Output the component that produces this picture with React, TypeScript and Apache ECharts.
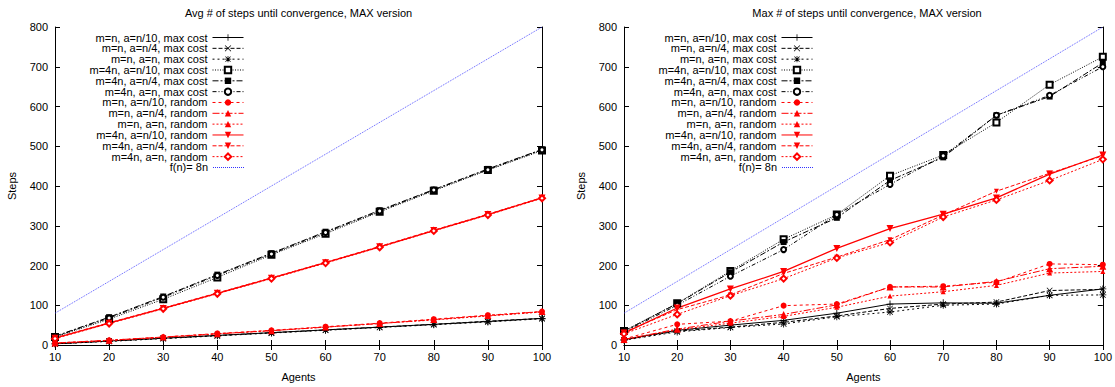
import React, { useEffect, useRef } from "react";
import * as echarts from "echarts";

const agents = [10, 20, 30, 40, 50, 60, 70, 80, 90, 100];
const yTicks = { min: 0, max: 800, interval: 100 };

const seriesNames = [
  "m=n, a=n/10, max cost",
  "m=n, a=n/4, max cost",
  "m=n, a=n, max cost",
  "m=4n, a=n/10, max cost",
  "m=4n, a=n/4, max cost",
  "m=4n, a=n, max cost",
  "m=n, a=n/10, random",
  "m=n, a=n/4, random",
  "m=n, a=n, random",
  "m=4n, a=n/10, random",
  "m=4n, a=n/4, random",
  "m=4n, a=n, random",
  "f(n)= 8n",
];

// Avg chart
const avgMnN10Max = [3, 10, 17, 24, 31, 38, 45, 52, 59, 67];
const avgMnN4Max = [3, 10, 17, 24, 31, 38, 45, 52, 60, 67];
const avgMnNMax = [3, 9, 16, 23, 30, 37, 44, 51, 58, 66];
const avgM4nN10Max = [20, 65, 115, 170, 227, 280, 335, 388, 440, 489];
const avgM4nN4Max = [22, 70, 122, 177, 231, 285, 339, 391, 443, 492];
const avgM4nNMax = [21, 68, 120, 175, 229, 283, 337, 390, 441, 491];
const avgMnN10Rnd = [5, 12, 20, 29, 37, 46, 55, 65, 75, 84];
const avgMnN4Rnd = [5, 12, 20, 28, 36, 45, 54, 64, 74, 84];
const avgMnNRnd = [4, 11, 19, 28, 36, 45, 54, 63, 73, 83];
const avgM4nN10Rnd = [17, 55, 92, 130, 168, 207, 247, 288, 328, 370];
const avgM4nN4Rnd = [18, 56, 93, 131, 169, 208, 248, 289, 329, 371];
const avgM4nNRnd = [16, 54, 91, 129, 167, 206, 246, 287, 327, 369];

// Max chart
const maxMnN10Max = [14, 37, 50, 62, 80, 103, 106, 105, 125, 141];
const maxMnN4Max = [13, 35, 45, 57, 73, 92, 103, 108, 137, 140];
const maxMnNMax = [12, 33, 44, 53, 71, 83, 100, 103, 125, 126];
const maxM4nN10Max = [35, 105, 186, 266, 328, 426, 478, 560, 655, 725];
const maxM4nN4Max = [35, 104, 183, 259, 320, 414, 472, 578, 625, 710];
const maxM4nNMax = [33, 100, 173, 240, 328, 404, 476, 578, 628, 700];
const maxMnN10Rnd = [15, 52, 60, 99, 103, 146, 148, 158, 204, 202];
const maxMnN4Rnd = [14, 40, 60, 77, 101, 146, 146, 160, 192, 198];
const maxMnNRnd = [13, 38, 55, 72, 95, 123, 134, 150, 181, 185];
const maxM4nN10Rnd = [30, 93, 141, 185, 243, 293, 329, 370, 430, 478];
const maxM4nN4Rnd = [32, 89, 126, 180, 221, 265, 327, 387, 432, 476];
const maxM4nNRnd = [28, 77, 124, 167, 219, 258, 322, 365, 414, 467];

// f(n) = 8n reference line endpoints
const fAgents = [10, 100];
const fValues = [80, 800];

const avgSeries = [
  avgMnN10Max, avgMnN4Max, avgMnNMax, avgM4nN10Max, avgM4nN4Max, avgM4nNMax,
  avgMnN10Rnd, avgMnN4Rnd, avgMnNRnd, avgM4nN10Rnd, avgM4nN4Rnd, avgM4nNRnd,
];
const maxSeries = [
  maxMnN10Max, maxMnN4Max, maxMnNMax, maxM4nN10Max, maxM4nN4Max, maxM4nNMax,
  maxMnN10Rnd, maxMnN4Rnd, maxMnNRnd, maxM4nN10Rnd, maxM4nN4Rnd, maxM4nNRnd,
];

const titles = [
  "Avg # of steps until convergence, MAX version",
  "Max # of steps until convergence, MAX version",
];

const PLUS = "path://M4.4,0h1.2v4.4h4.4v1.2h-4.4v4.4h-1.2v-4.4h-4.4v-1.2h4.4z";
const CROSS = "path://M0.8,0L5,4.2L9.2,0L10,0.8L5.8,5L10,9.2L9.2,10L5,5.8L0.8,10L0,9.2L4.2,5L0,0.8Z";
const STAR =
  "path://M4.4,0h1.2v4.4h4.4v1.2h-4.4v4.4h-1.2v-4.4h-4.4v-1.2h4.4zM1.4,0.6L5,4.2L8.6,0.6L9.4,1.4L5.8,5L9.4,8.6L8.6,9.4L5,5.8L1.4,9.4L0.6,8.6L4.2,5L0.6,1.4Z";
const DOWN = "path://M0,0L10,0L5,9Z";

// dotted legend sample for f(n): 1x1 dots every 2px over 31px
let dots = "path://";
for (let k = 0; k < 31; k += 2) dots += `M${k},0h1v1h-1z`;
const DOTTED_ICON = dots;

const BLACK = "#000000";
const RED = "#ff0000";
const BLUE = "#3333ff";

type Sty = {
  color: string;
  dash: any;
  symbol: string;
  size: number;
  open?: boolean;
  width?: number;
};

const styles: Sty[] = [
  { color: BLACK, dash: "solid", symbol: PLUS, size: 7 },
  { color: BLACK, dash: [4, 2], symbol: CROSS, size: 6 },
  { color: BLACK, dash: [2, 3], symbol: STAR, size: 7 },
  { color: BLACK, dash: [1, 1.5], symbol: "emptyRect", size: 6, open: true },
  { color: BLACK, dash: [6, 2, 2, 2], symbol: "rect", size: 6 },
  { color: BLACK, dash: [4, 2, 1, 2, 1, 2], symbol: "emptyCircle", size: 5, open: true },
  { color: RED, dash: [3, 3], symbol: "circle", size: 6 },
  { color: RED, dash: [7, 2, 2, 2], symbol: "triangle", size: 7 },
  { color: RED, dash: [2, 2], symbol: "triangle", size: 5 },
  { color: RED, dash: "solid", symbol: DOWN, size: 7, width: 1.3 },
  { color: RED, dash: [4, 2], symbol: DOWN, size: 5 },
  { color: RED, dash: [2, 2], symbol: "emptyDiamond", size: 6, open: true },
];

const FONT = "Liberation Sans, Arial, Helvetica, sans-serif";

const grids = [
  { left: 55, top: 27, width: 487, height: 324 },
  { left: 624, top: 27, width: 486, height: 324 },
];
const legendIconRight = [244, 813];
const legendRowTop = 32;
const legendRowStep = 10.83;

function buildOption() {
  const xAxis: any[] = [];
  const yAxis: any[] = [];
  const series: any[] = [];
  const legend: any[] = [];
  const graphic: any[] = [];

  grids.forEach((g, gi) => {
    const axisLine = { show: true, lineStyle: { color: BLACK, width: 1 } };
    const tick = { show: true, inside: true, length: 5, lineStyle: { color: BLACK } };
    const label = { color: "#000", fontSize: 11, fontFamily: FONT };
    xAxis.push({
      type: "value", gridIndex: gi, min: 10, max: 100, interval: 10, position: "bottom",
      name: "Agents", nameLocation: "middle", nameGap: 26,
      nameTextStyle: { color: "#000", fontSize: 11, fontFamily: FONT },
      axisLine, axisTick: tick, axisLabel: { ...label, margin: 6 }, splitLine: { show: false },
    });
    xAxis.push({
      type: "value", gridIndex: gi, min: 10, max: 100, interval: 10, position: "top",
      axisLine, axisTick: tick, axisLabel: { show: false }, splitLine: { show: false },
    });
    yAxis.push({
      type: "value", gridIndex: gi, ...yTicks, position: "left",
      name: "Steps", nameLocation: "middle", nameGap: 38, nameRotate: 90,
      nameTextStyle: { color: "#000", fontSize: 11, fontFamily: FONT },
      axisLine, axisTick: tick, axisLabel: { ...label, margin: 7 }, splitLine: { show: false },
    });
    yAxis.push({
      type: "value", gridIndex: gi, ...yTicks, position: "right",
      axisLine, axisTick: tick, axisLabel: { show: false }, splitLine: { show: false },
    });

    const dataSets = gi === 0 ? avgSeries : maxSeries;
    dataSets.forEach((vals, si) => {
      const s = styles[si];
      series.push({
        type: "line",
        name: seriesNames[si],
        xAxisIndex: gi * 2,
        yAxisIndex: gi * 2,
        data: agents.map((a, k) => [a, vals[k]]),
        symbol: s.symbol,
        symbolSize: s.size,
        showSymbol: true,
        lineStyle: { color: s.color, width: s.width || 1, type: s.dash },
        itemStyle: s.open
          ? { color: s.color, borderColor: s.color, borderWidth: 1 }
          : { color: s.color, borderWidth: 0 },
        emphasis: { disabled: true },
        z: 3,
      });
    });
    series.push({
      type: "line",
      name: seriesNames[12],
      xAxisIndex: gi * 2,
      yAxisIndex: gi * 2,
      data: fAgents.map((a, k) => [a, fValues[k]]),
      symbol: "none",
      lineStyle: { color: BLUE, width: 0.8, type: [1, 1] },
      itemStyle: { color: BLUE },
      emphasis: { disabled: true },
      z: 2,
    });

    seriesNames.forEach((nm, i) => {
      legend.push({
        data: [
          i === 12
            ? { name: nm, icon: DOTTED_ICON, itemStyle: { color: BLUE, borderWidth: 0 } }
            : { name: nm },
        ],
        orient: "vertical",
        align: "right",
        right: 1115 - legendIconRight[gi],
        top: legendRowTop + i * legendRowStep,
        itemWidth: 31,
        itemHeight: 8,
        itemGap: 0,
        padding: 0,
        selectedMode: false,
        lineStyle: { width: 1 },
        textStyle: { color: "#000", fontSize: 11, fontFamily: FONT },
      });
    });

    graphic.push({
      type: "text",
      x: g.left + g.width / 2,
      y: 13,
      style: {
        text: titles[gi],
        align: "center",
        verticalAlign: "middle",
        fontSize: 11,
        fontFamily: FONT,
        fill: "#000",
      },
    });
  });

  return {
    animation: false,
    backgroundColor: "#ffffff",
    grid: grids.map((g) => ({ ...g, containLabel: false })),
    xAxis,
    yAxis,
    series,
    legend,
    graphic,
  };
}

export default function App() {
  const ref = useRef<HTMLDivElement>(null);
  useEffect(() => {
    if (!ref.current) return;
    const chart = echarts.init(ref.current, undefined, { renderer: "svg" });
    chart.setOption(buildOption() as any);
    return () => chart.dispose();
  }, []);
  return (
    <div
      ref={ref}
      style={{ position: "fixed", left: 0, top: 0, width: 1115, height: 387, background: "#fff" }}
    />
  );
}
